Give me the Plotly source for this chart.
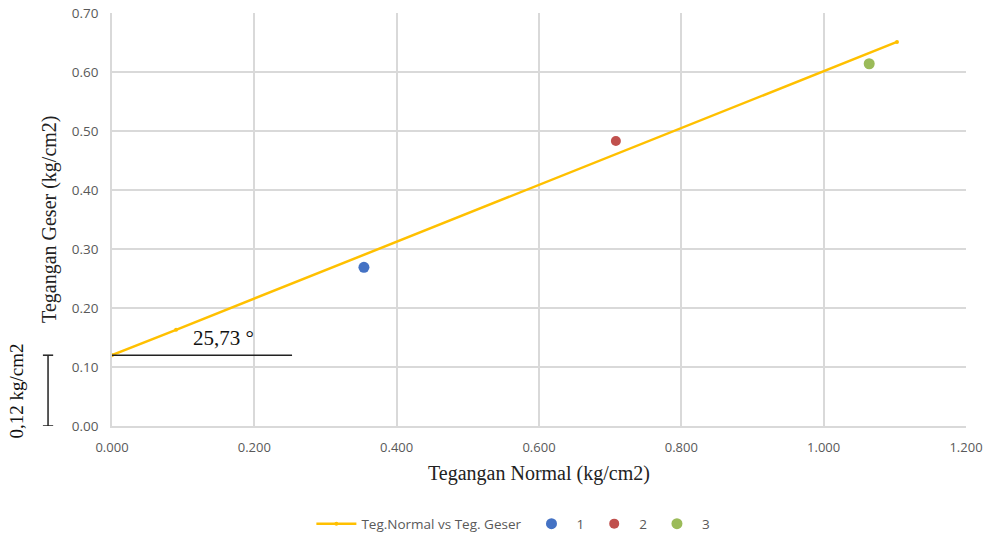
import plotly.graph_objects as go

# Data
line_x = [0.0, 0.09, 1.103]
line_y = [0.12, 0.163, 0.651]
pts_names = ["1", "2", "3"]
pts_x = [0.354, 0.708, 1.064]
pts_y = [0.269, 0.483, 0.614]
pts_colors = ["#4472C4", "#C0504D", "#9BBB59"]
x_ticks = [0.0, 0.2, 0.4, 0.6, 0.8, 1.0, 1.2]
x_ticklabels = ["0.000", "0.200", "0.400", "0.600", "0.800", "1.000", "1.200"]
y_ticks = [0.0, 0.1, 0.2, 0.3, 0.4, 0.5, 0.6, 0.7]
y_ticklabels = ["0.00", "0.10", "0.20", "0.30", "0.40", "0.50", "0.60", "0.70"]
cohesion = 0.12
angle_label = "25,73 °"
cohesion_label = "0,12 kg/cm2"
ref_line_end = 0.253

fig = go.Figure()
fig.add_trace(go.Scatter(
    x=line_x, y=line_y, mode="lines+markers", name="Teg.Normal vs Teg. Geser",
    line=dict(color="#FFC000", width=2.5),
    marker=dict(color="#FFC000", size=4, symbol="circle"),
))
for n, xv, yv, c in zip(pts_names, pts_x, pts_y, pts_colors):
    fig.add_trace(go.Scatter(
        x=[xv], y=[yv], mode="markers", name=n,
        marker=dict(color=c, size=11 if n != "2" else 10),
    ))

# Reference horizontal line at cohesion
fig.add_shape(type="line", xref="x", yref="y", x0=0, x1=ref_line_end,
              y0=cohesion, y1=cohesion, line=dict(color="#222222", width=1.5))
# Bracket for cohesion
bx = -0.0749
fig.add_shape(type="line", xref="paper", yref="y", x0=bx, x1=bx, y0=0, y1=cohesion,
              line=dict(color="#222222", width=1.5))
fig.add_shape(type="line", xref="paper", yref="y", x0=bx - 0.006, x1=bx + 0.006,
              y0=0, y1=0, line=dict(color="#222222", width=1.5))
fig.add_shape(type="line", xref="paper", yref="y", x0=bx - 0.006, x1=bx + 0.006,
              y0=cohesion, y1=cohesion, line=dict(color="#222222", width=1.5))

fig.add_annotation(x=0.157, y=0.149, xref="x", yref="y", text=angle_label, xanchor="center",
                   showarrow=False, font=dict(family="Liberation Serif", size=21, color="#111111"))
fig.add_annotation(x=-0.1113, y=0.06, xref="paper", yref="y", text=cohesion_label,
                   textangle=-90, showarrow=False, xanchor="center", yanchor="middle",
                   font=dict(family="Liberation Serif", size=19, color="#111111"))
fig.add_annotation(x=0.5, y=-0.114, xref="paper", yref="paper", text="Tegangan Normal (kg/cm2)",
                   showarrow=False, yanchor="middle", xanchor="center",
                   font=dict(family="Liberation Serif", size=20, color="#222222"))
fig.add_annotation(x=-0.0726, y=0.351, xref="paper", yref="y", text="Tegangan Geser (kg/cm2)",
                   textangle=-90, showarrow=False, xanchor="center", yanchor="middle",
                   font=dict(family="Liberation Serif", size=20, color="#222222"))

fig.update_xaxes(range=[0, 1.2], tickvals=x_ticks, ticktext=x_ticklabels, automargin=False,
                 showgrid=True, gridcolor="#D9D9D9", gridwidth=1.5, zeroline=False,
                 showline=True, linecolor="#D9D9D9", linewidth=1.5, mirror=False,
                 ticklabelstandoff=9,
                 tickfont=dict(family="Open Sans", size=13, color="#595959"), ticks="", ticklen=0)
fig.update_yaxes(range=[0, 0.7], tickvals=y_ticks, ticktext=y_ticklabels, automargin=False,
                 showgrid=True, gridcolor="#D9D9D9", gridwidth=1.5, zeroline=False,
                 showline=True, linecolor="#D9D9D9", linewidth=1.5,
                 ticklabelstandoff=9,
                 tickfont=dict(family="Open Sans", size=13.5, color="#595959"), ticks="", ticklen=0)

fig.update_layout(
    width=990, height=534, paper_bgcolor="white", plot_bgcolor="white",
    margin=dict(l=112, r=24, t=13, b=108, autoexpand=False),
    showlegend=True,
    legend=dict(orientation="h", x=0.47, y=0.019, xref="paper", yref="container",
                xanchor="center", yanchor="middle",
                font=dict(family="Open Sans", size=13.5, color="#595959"), itemwidth=40),
)
fig.write_html("out.html")
